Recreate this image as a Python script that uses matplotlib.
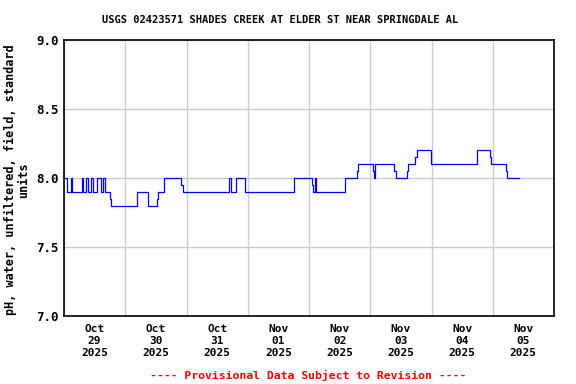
import matplotlib
matplotlib.use("Agg")
import matplotlib.pyplot as plt
import pandas as pd

title = "USGS 02423571 SHADES CREEK AT ELDER ST NEAR SPRINGDALE AL"
ylabel = "pH, water, unfiltered, field, standard\nunits"
footer = "---- Provisional Data Subject to Revision ----"

start = pd.Timestamp("2025-10-29 00:00")
# hours since Oct 29 00:00 where each level begins
hours = [0, 1, 2.75, 3.25, 7, 7.5, 8.5, 9.5, 10.75, 11.5, 13, 14.5, 15.25, 16,
         18, 18.5, 28.75, 33, 36.25, 36.75, 39.25, 46, 46.5, 64.75, 65.5, 67.5,
         71, 90, 97.25, 97.75, 98.5, 98.75, 110, 115, 115.25, 121.25, 121.5,
         122, 129.5, 130, 134.25, 134.75, 137.5, 138.25, 143.75, 162, 167,
         167.5, 173, 173.5, 178.25]
ph = [8.0, 7.9, 8.0, 7.9, 8.0, 7.9, 8.0, 7.9, 8.0, 7.9, 8.0, 7.9, 8.0, 7.9,
      7.85, 7.8, 7.9, 7.8, 7.85, 7.9, 8.0, 7.95, 7.9, 8.0, 7.9, 8.0,
      7.9, 8.0, 7.95, 7.9, 8.0, 7.9, 8.0, 8.05, 8.1, 8.05, 8.0,
      8.1, 8.05, 8.0, 8.05, 8.1, 8.15, 8.2, 8.1, 8.2, 8.15,
      8.1, 8.05, 8.0, 8.0]

day_labels = ["Oct\n29\n2025", "Oct\n30\n2025", "Oct\n31\n2025", "Nov\n01\n2025",
              "Nov\n02\n2025", "Nov\n03\n2025", "Nov\n04\n2025", "Nov\n05\n2025"]
yticks = [7.0, 7.5, 8.0, 8.5, 9.0]
ytick_labels = ["7.0", "7.5", "8.0", "8.5", "9.0"]

times = [start + pd.Timedelta(hours=h) for h in hours]

fig = plt.figure(figsize=(5.76, 3.84), dpi=100)
ax = fig.add_axes([64/576, 1-316/384, 490/576, 276/384])

ax.plot(times, ph, drawstyle="steps-post", color="#0000ff", lw=0.9)

ax.set_ylim(7.0, 9.0)
ax.set_xlim(start, start + pd.Timedelta(days=8))

mono = "DejaVu Sans Mono"
ax.set_yticks(yticks)
ax.set_yticklabels(ytick_labels, family=mono, fontweight="bold", fontsize=9)

major = [start + pd.Timedelta(days=i) for i in range(9)]
minor = [start + pd.Timedelta(days=i, hours=12) for i in range(8)]
ax.set_xticks(major)
ax.set_xticklabels([""] * len(major))
ax.set_xticks(minor, minor=True)
ax.set_xticklabels(day_labels, minor=True, family=mono, fontweight="bold",
                   fontsize=8, linespacing=1.25)
ax.tick_params(axis="x", which="both", length=0, pad=6)
ax.tick_params(axis="y", length=0, pad=4)

ax.grid(True, which="major", color="#cccccc", lw=1.0)
ax.set_axisbelow(True)
for s in ax.spines.values():
    s.set_linewidth(1.2)
    s.set_color("black")

fig.text(280/576, 1-20/384, title, ha="center", va="center", family=mono,
         fontweight="bold", fontsize=7.5)
fig.text(17/576, 1-180/384, ylabel, ha="center", va="center", rotation=90,
         family=mono, fontweight="bold", fontsize=8.5, linespacing=1.1)
fig.text(308/576, 1-375/384, footer, ha="center", va="center", family=mono,
         fontweight="bold", fontsize=8.25, color="red")

fig.savefig("out.png", dpi=100)
